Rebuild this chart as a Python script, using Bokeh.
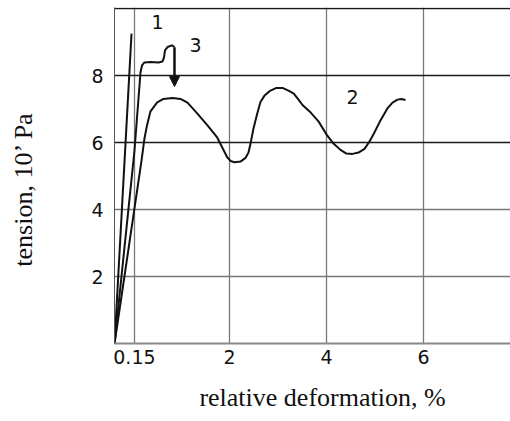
from bokeh.plotting import figure
from bokeh.layouts import row, column
from bokeh.models import Range1d, FixedTicker, Grid, Arrow, NormalHead
from bokeh.core.properties import value
from bokeh.embed import file_html
from bokeh.resources import INLINE
import math

# axis units (x: deformation axis as drawn, y: tension)
x_ticks = [0.04, 2, 4, 6]
x_tick_labels = {0.04: "0.15", 2: "2", 4: "4", 6: "6"}
y_ticks = [2, 4, 6, 8]

curve1_x = [-0.37, -0.02]
curve1_y = [0.0, 9.25]

curve3_x = [-0.37, 0.041, 0.165, 0.196, 0.247, 0.371, 0.536, 0.619, 0.650, 0.670, 0.722, 0.814, 0.866]
curve3_y = [0.0, 5.76, 8.09, 8.30, 8.39, 8.40, 8.39, 8.42, 8.54, 8.75, 8.85, 8.90, 8.85]

curve2_x = [-0.37, 0.186, 0.247, 0.299, 0.371, 0.509, 0.639, 0.825, 0.990, 1.134, 1.334, 1.546,
            1.746, 1.953, 2.021, 2.103, 2.227, 2.330, 2.392, 2.433, 2.495, 2.571, 2.639, 2.722,
            2.845, 2.969, 3.093, 3.216, 3.326, 3.423, 3.505, 3.670, 3.835, 4.014, 4.144, 4.289,
            4.412, 4.536, 4.660, 4.784, 4.887, 4.975, 5.113, 5.252, 5.361, 5.464, 5.546, 5.629]
curve2_y = [0.0, 5.46, 6.12, 6.51, 6.93, 7.20, 7.30, 7.33, 7.30, 7.19, 6.87, 6.51,
            6.15, 5.56, 5.45, 5.41, 5.43, 5.54, 5.70, 5.96, 6.42, 6.86, 7.21, 7.40,
            7.55, 7.63, 7.63, 7.55, 7.46, 7.28, 7.12, 6.90, 6.63, 6.21, 5.97, 5.78,
            5.67, 5.66, 5.70, 5.81, 6.03, 6.26, 6.66, 7.01, 7.19, 7.28, 7.30, 7.27]

arrow_x = 0.866
arrow_y_start = 8.84
arrow_y_end = 7.67

curve_labels = ["1", "3", "2"]
curve_label_x = [0.515, 1.299, 4.536]
curve_label_y = [9.61, 8.90, 7.37]

y_title = "tension, 10’ Pa"
x_title = "relative deformation, %"

LW = 50          # width of the y-title strip
MAIN_H = 372     # height of the main plot
XT_H = 48        # height of the x-title strip

p = figure(width=510 - LW, height=MAIN_H, output_backend="svg", toolbar_location=None,
           x_range=Range1d(-0.371, 7.794), y_range=Range1d(0, 10.03),
           min_border_left=114 - LW, min_border_right=0, min_border_top=7,
           min_border_bottom=MAIN_H - 343)
p.outline_line_color = None
p.background_fill_color = "white"

for ax in (p.xaxis[0], p.yaxis[0]):
    ax.major_tick_out = 0
    ax.major_tick_in = 0
    ax.minor_tick_out = 0
    ax.minor_tick_in = 0
    ax.major_label_text_font = "DejaVu Sans"
    ax.major_label_text_font_size = "19px"
    ax.major_label_text_color = "#111111"

p.xaxis.ticker = FixedTicker(ticks=x_ticks)
p.xaxis.major_label_overrides = x_tick_labels
p.xaxis.axis_line_color = "#888888"
p.xaxis.axis_line_width = 2
p.xaxis.major_label_standoff = 6

p.yaxis.ticker = FixedTicker(ticks=y_ticks)
p.yaxis.axis_line_color = "#555555"
p.yaxis.axis_line_width = 1
p.yaxis.major_label_standoff = 11

p.xgrid.ticker = FixedTicker(ticks=x_ticks)
p.xgrid.grid_line_color = "#777777"
p.xgrid.grid_line_width = 1.3
p.ygrid.ticker = FixedTicker(ticks=[2, 4])
p.ygrid.grid_line_color = "#777777"
p.ygrid.grid_line_width = 1.3
p.add_layout(Grid(dimension=1, ticker=FixedTicker(ticks=[6, 8, 10]),
                  grid_line_color="#1a1a1a", grid_line_width=1.3))

lc = "#111111"
p.line(curve1_x, curve1_y, line_color=lc, line_width=2)
p.line(curve3_x, curve3_y, line_color=lc, line_width=2)
p.line(curve2_x, curve2_y, line_color=lc, line_width=2)

p.add_layout(Arrow(end=NormalHead(size=10, fill_color=lc, line_color=lc),
                   x_start=arrow_x, y_start=arrow_y_start, x_end=arrow_x, y_end=arrow_y_end,
                   line_color=lc, line_width=2.5))

p.text(curve_label_x, curve_label_y, text=curve_labels, text_font_size="19px",
       text_font=value("DejaVu Sans"), text_align="center", text_baseline="middle",
       text_color=lc)

# y-title strip (coordinates in pixels of the strip)
yl = figure(width=LW, height=MAIN_H, output_backend="svg", toolbar_location=None,
            x_range=Range1d(0, LW), y_range=Range1d(0, MAIN_H), min_border=0)
yl.axis.visible = False
yl.grid.visible = False
yl.outline_line_color = None
yl.text([23], [MAIN_H - 201], text=[y_title], angle=math.pi / 2,
        text_font=value("Liberation Serif"), text_font_size="26px",
        text_align="center", text_baseline="middle", text_color=lc)

# x-title strip
xl = figure(width=510, height=XT_H, output_backend="svg", toolbar_location=None,
            x_range=Range1d(0, 510), y_range=Range1d(0, XT_H), min_border=0)
xl.axis.visible = False
xl.grid.visible = False
xl.outline_line_color = None
xl.text([322], [XT_H - (397 - MAIN_H)], text=[x_title],
        text_font=value("Liberation Serif"), text_font_size="26px",
        text_align="center", text_baseline="middle", text_color=lc)

layout = column(row(yl, p, spacing=0), xl, spacing=0)
open("out.html", "w").write(file_html(layout, INLINE))
